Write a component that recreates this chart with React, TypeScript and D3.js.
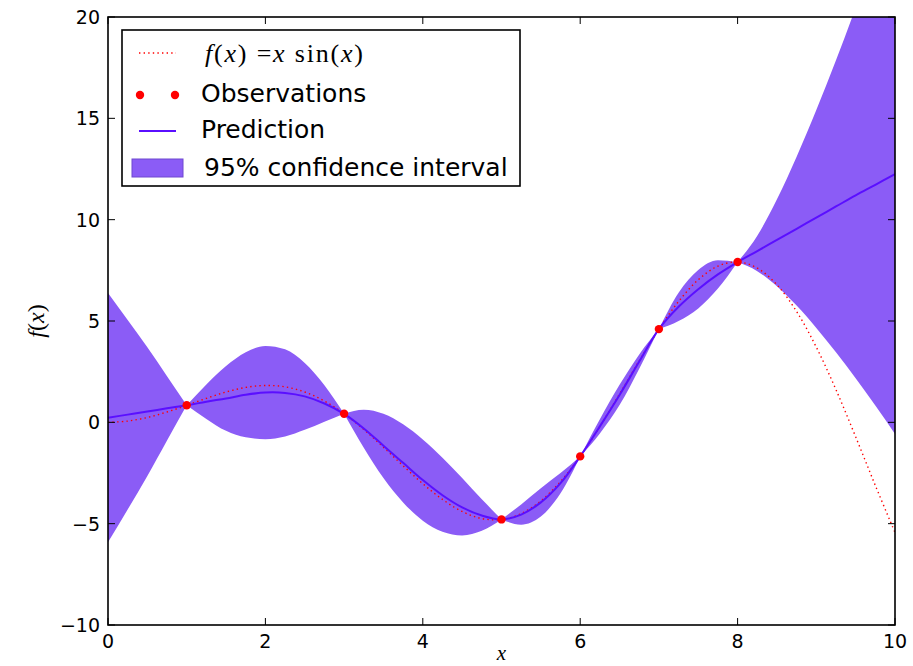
import React from 'react';
import * as d3 from 'd3';

// sample grid along x
const xGrid = [0, 0.25, 0.5, 0.75, 1, 1.25, 1.5, 1.75, 2, 2.25, 2.5, 2.75, 3, 3.25, 3.5, 3.75, 4, 4.25, 4.5, 4.75, 5,
  5.25, 5.5, 5.75, 6, 6.25, 6.5, 6.75, 7, 7.25, 7.5, 7.75, 8, 8.25, 8.5, 8.75, 9, 9.25, 9.5, 9.75, 10];

const trueValues = [0, 0.062, 0.24, 0.511, 0.841, 1.186, 1.496, 1.722, 1.819, 1.751, 1.496, 1.05, 0.423, -0.352, -1.228,
  -2.144, -3.027, -3.804, -4.399, -4.747, -4.795, -4.509, -3.88, -2.923, -1.676, -0.207, 1.398, 3.038, 4.599, 5.965,
  7.035, 7.708, 7.915, 7.611, 6.787, 5.466, 3.709, 1.612, -0.714, -3.115, -5.44];

const predMean = [0.23, 0.38, 0.53, 0.69, 0.84, 1.02, 1.18, 1.36, 1.47, 1.45, 1.28, 0.93, 0.42, -0.3, -1.15, -2.0, -2.85,
  -3.6, -4.2, -4.6, -4.79, -4.55, -3.95, -3.0, -1.68, -0.2, 1.35, 3.0, 4.6, 5.7, 6.57, 7.3, 7.91, 8.45, 9.0, 9.55, 10.1,
  10.65, 11.2, 11.72, 12.25];

const ciUpper = [6.38, 5.05, 3.7, 2.28, 0.84, 1.87, 2.78, 3.46, 3.77, 3.6, 2.93, 1.83, 0.42, 0.62, 0.42, -0.1, -0.85,
  -1.75, -2.75, -3.8, -4.79, -4.05, -3.25, -2.5, -1.68, 0.15, 1.85, 3.35, 4.6, 6.4, 7.52, 8.0, 7.91, 9.21, 11.01, 13.11,
  15.41, 17.86, 20.46, 23.21, 26.11];

const ciLower = [-5.92, -4.3, -2.65, -0.9, 0.84, 0.17, -0.42, -0.74, -0.83, -0.7, -0.37, 0.03, 0.42, -1.25, -2.75, -3.95,
  -4.85, -5.4, -5.58, -5.35, -4.79, -5.05, -4.65, -3.5, -1.68, -0.55, 0.85, 2.65, 4.6, 5.0, 5.62, 6.6, 7.91, 7.46, 6.71,
  5.76, 4.66, 3.46, 2.18, 0.83, -0.57];

const obsX = [1, 3, 5, 6, 7, 8];
const obsY = [0.84, 0.42, -4.79, -1.68, 4.6, 7.91];

const xTicks = [0, 2, 4, 6, 8, 10];
const yTicks = [-10, -5, 0, 5, 10, 15, 20];

const W = 913;
const H = 666;
const margin = { top: 17, right: 18, bottom: 41, left: 108 };

const BAND = '#8b5cf6';
const PRED = '#5a0fff';
const RED = '#ff0000';

type Pt = { x: number; y: number; lo: number; hi: number };

const fmt = (v: number) => (v < 0 ? '\u2212' + Math.abs(v) : String(v));

const App: React.FC = () => {
  const x = d3.scaleLinear().domain([0, 10]).range([margin.left, W - margin.right]);
  const y = d3.scaleLinear().domain([-10, 20]).range([H - margin.bottom, margin.top]);

  const pts: Pt[] = xGrid.map((v, i) => ({ x: v, y: predMean[i], lo: ciLower[i], hi: ciUpper[i] }));

  // split band at observations so the pinch points stay sharp
  const cuts = [0, ...obsX, 10];
  const segments: Pt[][] = [];
  for (let i = 0; i < cuts.length - 1; i++) {
    segments.push(pts.filter(p => p.x >= cuts[i] && p.x <= cuts[i + 1]));
  }

  const area = d3.area<Pt>()
    .x(d => x(d.x))
    .y0(d => y(d.lo))
    .y1(d => y(d.hi))
    .curve(d3.curveMonotoneX);

  const line = d3.line<number>()
    .x((_, i) => x(xGrid[i]))
    .y(d => y(d))
    .curve(d3.curveCatmullRom.alpha(0.5));

  const x0 = x(0), x1 = x(10), y0 = y(-10), y1 = y(20);
  const tick = 7;

  return (
    <svg width={W} height={H} style={{ position: 'absolute', left: 0, top: 0, background: '#fff' }}
      fontFamily="DejaVu Sans, sans-serif">
      <defs>
        <clipPath id="plotArea">
          <rect x={x0} y={y1} width={x1 - x0} height={y0 - y1} />
        </clipPath>
      </defs>
      <rect width={W} height={H} fill="#fff" />

      <g clipPath="url(#plotArea)">
        {segments.map((s, i) => (
          <path key={i} d={area(s) || ''} fill={BAND} />
        ))}
        <path d={line(trueValues) || ''} fill="none" stroke={RED} strokeWidth={1.4} strokeDasharray="1.4,3.2" />
        <path d={line(predMean) || ''} fill="none" stroke={PRED} strokeWidth={2} />
        {obsX.map((v, i) => (
          <circle key={i} cx={x(v)} cy={y(obsY[i])} r={4.2} fill={RED} />
        ))}
      </g>

      {/* frame */}
      <rect x={x0} y={y1} width={x1 - x0} height={y0 - y1} fill="none" stroke="#000" strokeWidth={1.6} />

      {/* ticks, inward on all four sides */}
      {xTicks.map(t => (
        <g key={'x' + t}>
          <line x1={x(t)} x2={x(t)} y1={y0} y2={y0 - tick} stroke="#000" strokeWidth={1} />
          <line x1={x(t)} x2={x(t)} y1={y1} y2={y1 + tick} stroke="#000" strokeWidth={1} />
          <text x={x(t)} y={y0 + 23} textAnchor="middle" fontSize={19} fill="#000">{fmt(t)}</text>
        </g>
      ))}
      {yTicks.map(t => (
        <g key={'y' + t}>
          <line x1={x0} x2={x0 + tick} y1={y(t)} y2={y(t)} stroke="#000" strokeWidth={1} />
          <line x1={x1} x2={x1 - tick} y1={y(t)} y2={y(t)} stroke="#000" strokeWidth={1} />
          <text x={x0 - 8} y={y(t) + 7} textAnchor="end" fontSize={19} fill="#000">{fmt(t)}</text>
        </g>
      ))}

      {/* axis labels */}
      <text x={(x0 + x1) / 2} y={660} textAnchor="middle" fontFamily="Liberation Serif, serif" fontStyle="italic"
        fontSize={21}>x</text>
      <text transform={`translate(44,${(y0 + y1) / 2}) rotate(-90)`} textAnchor="middle"
        fontFamily="Liberation Serif, serif" fontSize={24}>
        <tspan fontStyle="italic">f</tspan>(<tspan fontStyle="italic">x</tspan>)
      </text>

      {/* legend */}
      <g>
        <rect x={122} y={30} width={398} height={156} fill="#fff" stroke="#000" strokeWidth={1.6} />
        <line x1={139} x2={176} y1={53} y2={53} stroke={RED} strokeWidth={1.4} strokeDasharray="1.4,3.2" />
        <text x={205} y={62} fontFamily="Liberation Serif, serif" fontSize={26} textLength={158}
          lengthAdjust="spacing">
          <tspan fontStyle="italic">f</tspan>(<tspan fontStyle="italic">x</tspan>) =<tspan
            fontStyle="italic">x</tspan> sin(<tspan fontStyle="italic">x</tspan>)
        </text>

        <circle cx={140} cy={95} r={4.2} fill={RED} />
        <circle cx={175} cy={95} r={4.2} fill={RED} />
        <text x={201} y={102} fontSize={25}>Observations</text>

        <line x1={139} x2={176} y1={131} y2={131} stroke={PRED} strokeWidth={2} />
        <text x={201} y={138} fontSize={25}>Prediction</text>

        <rect x={132} y={159} width={51} height={18} fill={BAND} stroke="#6f48d0" strokeWidth={1} />
        <text x={204} y={176} fontSize={25}>95% confidence interval</text>
      </g>
    </svg>
  );
};

export default App;
